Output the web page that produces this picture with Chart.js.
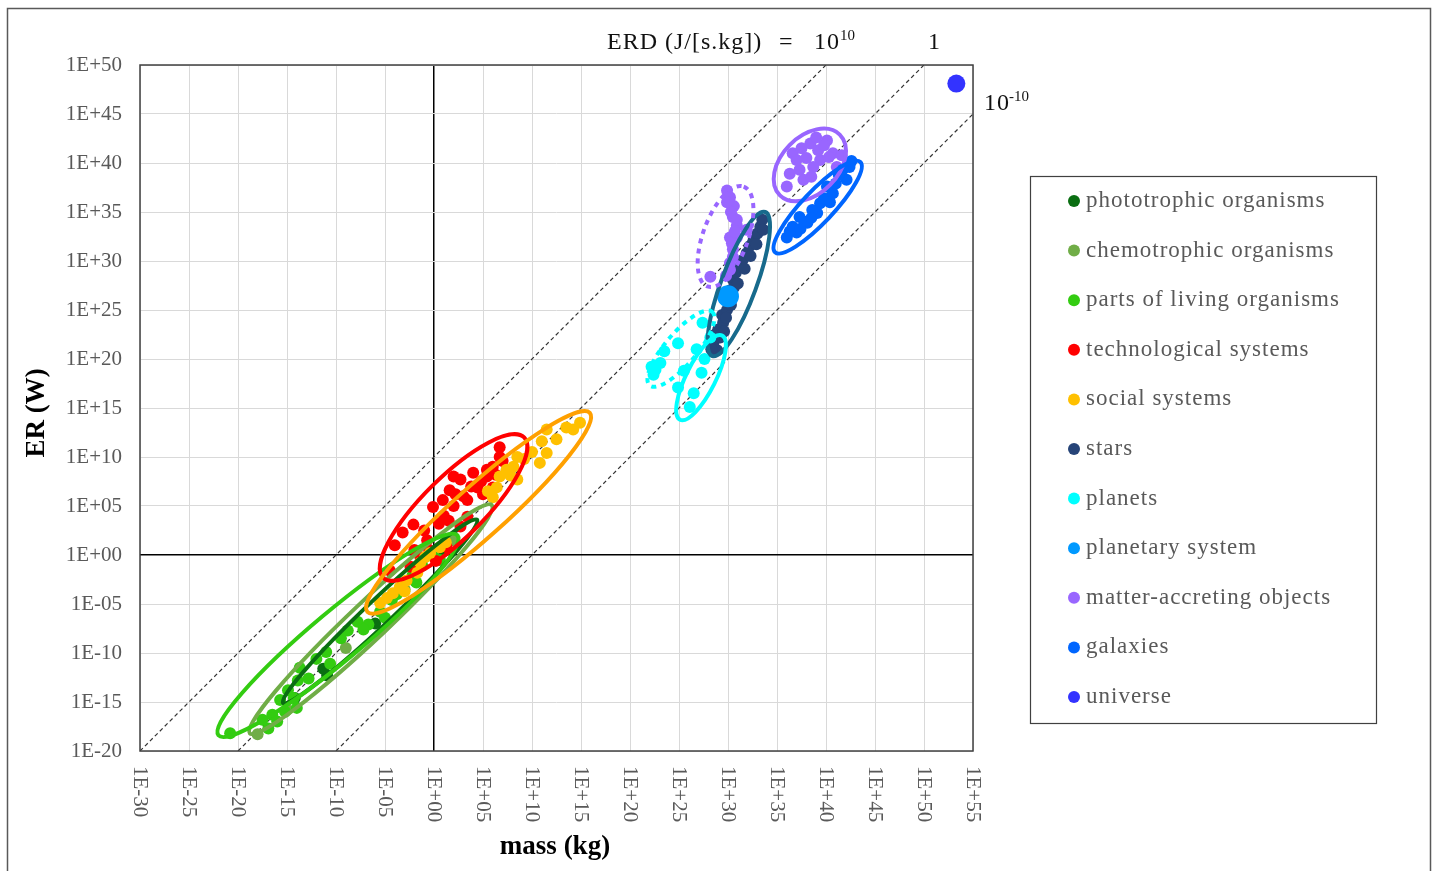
<!DOCTYPE html>
<html>
<head>
<meta charset="utf-8">
<script src="https://cdn.jsdelivr.net/npm/chart.js@4.4.0/dist/chart.umd.min.js"></script>
<style>
  html, body { margin: 0; padding: 0; background: #fff; }
  #wrap { position: absolute; left: 0; top: 0; width: 1435px; height: 871px; }
</style>
</head>
<body>
<div id="wrap"><canvas id="erdChart" width="1435" height="871"></canvas></div>
<script>
// values are log10 exponents: [log10 mass (kg), log10 ER (W)]
const phototrophic = [[-14.2, -14.6], [-10.9, -12.3], [-11.3, -11.6], [-6.0, -7.0], [-2.0, -2.6], [1.0, 0.4]];
const chemotrophic = [[-18.0, -18.3], [-15.0, -15.8], [-9.0, -9.5], [-3.0, -3.5], [2.0, 1.5]];
const livingParts = [[-20.8, -18.2], [-16.9, -17.7], [-16.5, -16.3], [-15.7, -14.8], [-14.9, -13.8],
  [-13.9, -12.8], [-13.7, -11.5], [-11.0, -9.9], [-10.6, -11.1], [-8.8, -7.7], [-7.8, -6.8],
  [-6.7, -7.1], [-5.5, -5.8], [-4.3, -4.6], [-3.3, -3.4], [-2.2, -2.1], [-1.2, -1.1], [0.6, -0.5],
  [-17.5, -16.8], [-15.2, -16.0], [-14.3, -14.6], [-12.8, -12.6], [-12.0, -10.6], [-9.5, -8.5],
  [-7.2, -7.6], [-5.0, -6.4], [-3.8, -4.0], [-1.8, -2.8], [0.0, -0.2], [-14.0, -15.6], [-16.0, -17.0]];
const technological = [[-3.2, 2.3], [-2.1, 3.1], [-0.1, 4.9], [1.6, 6.6], [2.7, 7.7], [3.4, 5.6],
  [4.0, 8.4], [5.4, 8.7], [6.0, 9.0], [6.7, 11.0], [6.0, 6.9], [4.4, 6.9], [0.9, 5.6], [-0.7, 1.5],
  [-1.4, -0.2], [-2.4, -1.2], [1.3, 0.8], [2.7, 2.9], [3.4, 3.9], [6.7, 10.0], [5.4, 8.0],
  [1.0, 4.0], [2.0, 5.0], [3.0, 6.0], [4.8, 7.5], [5.0, 6.2], [3.8, 7.0], [2.2, 6.2], [0.5, 3.2],
  [-1.0, 2.5], [1.5, 3.5], [6.3, 8.2], [7.0, 9.6], [-0.5, 0.5], [0.2, -0.6], [-2.0, 0.5],
  [2.0, 8.0], [-4.5, -1.6], [-4.0, 1.0]];
const social = [[14.2, 12.8], [14.9, 13.5], [11.5, 12.8], [11.5, 10.4], [10.8, 9.4], [8.5, 10.0],
  [8.1, 9.0], [7.4, 8.7], [6.7, 8.0], [6.4, 6.9], [6.0, 5.9], [8.5, 7.7], [0.6, 0.8], [-0.4, 0.2],
  [-1.4, -0.8], [-1.7, -1.8], [-4.2, -3.9], [-5.5, -4.9], [-3.5, -3.3], [13.5, 13.0], [12.5, 11.8],
  [10.0, 10.5], [9.2, 9.8], [7.8, 8.1], [11.0, 11.6], [5.5, 6.5], [-2.8, -2.6], [-0.9, -0.2],
  [-3.0, -3.7], [-4.8, -4.4], [1.2, 1.3]];
const stars = [[28.5, 21.6], [28.9, 20.9], [29.2, 22.2], [28.7, 22.5], [29.0, 23.0], [29.5, 23.7],
  [29.4, 24.5], [29.9, 25.0], [30.0, 26.0], [30.2, 27.0], [30.5, 28.1], [30.8, 28.8], [31.2, 29.4],
  [31.5, 30.1], [31.9, 30.8], [32.2, 31.5], [32.6, 32.1], [33.0, 32.8], [33.3, 33.5], [33.5, 34.2],
  [29.6, 22.8], [29.8, 24.2], [30.3, 25.5], [30.6, 27.3], [31.0, 27.7], [31.7, 29.2], [32.3, 30.5],
  [32.9, 31.7], [33.6, 33.2], [28.3, 21.0]];
const planets = [[22.2, 19.2], [22.6, 18.9], [23.1, 19.6], [22.4, 18.4], [24.9, 21.6], [27.4, 23.7],
  [27.3, 18.6], [24.9, 17.1], [26.1, 15.1], [28.2, 22.2], [26.8, 21.0], [23.5, 20.8], [26.5, 16.5],
  [27.6, 20.0], [25.5, 18.8]];
const planetarySystem = [[30.0, 26.4]];
const accreting = [[29.9, 37.2], [30.2, 36.5], [30.6, 35.6], [30.5, 34.5], [30.9, 33.6], [30.2, 32.4],
  [30.9, 32.4], [30.5, 31.2], [30.5, 30.4], [30.2, 29.1], [29.8, 28.5], [28.2, 28.4], [31.9, 33.2],
  [30.3, 35.0], [30.7, 33.0], [30.4, 31.8], [30.2, 29.8], [30.9, 34.2], [29.9, 36.0],
  [36.6, 41.0], [38.4, 42.0], [40.1, 42.3], [39.4, 40.3], [37.3, 39.3], [36.0, 37.6], [37.7, 38.3],
  [40.7, 41.0], [38.7, 39.6], [41.1, 39.6], [37.5, 41.5], [39.2, 41.3], [38.0, 40.5], [39.8, 41.8],
  [38.5, 38.6], [40.3, 40.6], [37.0, 40.3], [39.0, 42.6], [36.3, 38.9], [41.6, 40.8]];
const galaxies = [[42.4, 39.6], [42.1, 38.3], [40.7, 36.9], [39.4, 35.9], [39.1, 34.9], [37.3, 34.5],
  [36.6, 33.5], [36.0, 32.4], [38.1, 33.9], [40.1, 37.6], [41.7, 39.3], [37.0, 32.9],
  [38.6, 35.2], [39.8, 36.4], [41.0, 37.9], [41.3, 38.8], [37.8, 34.0], [36.3, 33.0], [38.5, 34.4],
  [42.6, 40.2], [40.4, 36.0], [37.4, 33.3]];
const universe = [[53.3, 48.1]];

const seriesNames = ['phototrophic organisms', 'chemotrophic organisms', 'parts of living organisms',
  'technological systems', 'social systems', 'stars', 'planets', 'planetary system',
  'matter-accreting objects', 'galaxies', 'universe'];
const seriesData = [phototrophic, chemotrophic, livingParts, technological, social, stars,
  planets, planetarySystem, accreting, galaxies, universe];
const seriesColors = ['#0a6e12', '#70ad47', '#33cc11', '#ff0000', '#ffc000', '#264478',
  '#00ffff', '#0099ff', '#9966ff', '#0066ff', '#3333ff'];

// ERD reference lines, log10(J/[s.kg])
const erdLevels = [10, 0, -10];

// group outlines: series index, major axis end points (log units), half width, dotted
const outlines = [
  [0, -15.4, -15.1, 4.4, 3.6, 1.3, false],
  [1, -18.8, -18.2, 5.9, 5.1, 1.9, false],
  [2, -22.0, -18.4, 2.4, 2.0, 2.5, false],
  [3, -5.2, -2.3, 9.2, 12.0, 3.1, false],
  [4, -6.8, -5.8, 15.9, 14.5, 2.6, false],
  [5, 28.4, 20.3, 33.8, 35.0, 1.8, false],
  [6, 25.1, 13.8, 29.4, 22.4, 1.5, false],
  [6, 22.0, 17.3, 28.4, 24.8, 1.6, true],
  [8, 27.9, 27.4, 31.6, 37.6, 2.3, true],
  [8, 35.3, 36.7, 41.4, 42.9, 2.9, false],
  [9, 34.8, 30.9, 43.5, 40.1, 1.6, false]
];
const outlineColors = { 4: '#ffa000', 5: '#176a8c' };

const xMin = -30, xMax = 55, yMin = -20, yMax = 50;
const serif = '"Liberation Serif", "Times New Roman", serif';

function expLabel(v) {
  return '1E' + (v < 0 ? '-' : '+') + String(Math.abs(v)).padStart(2, '0');
}

function erdLine(c) {
  const x0 = Math.max(xMin, yMin - c);
  const x1 = Math.min(xMax, yMax - c);
  return [{ x: x0, y: x0 + c }, { x: x1, y: x1 + c }];
}

const datasets = seriesNames.map((name, i) => ({
  type: 'scatter',
  label: name,
  data: seriesData[i].map(p => ({ x: p[0], y: p[1] })),
  backgroundColor: seriesColors[i],
  borderWidth: 0,
  pointRadius: name === 'universe' ? 9 : (name === 'planetary system' ? 11 : 6),
  pointHoverRadius: 0,
  order: 10 - i
}));

erdLevels.forEach(c => {
  datasets.push({
    type: 'line',
    label: 'ERD ' + c,
    data: erdLine(c),
    borderColor: '#333',
    borderWidth: 1.2,
    borderDash: [4, 3],
    pointRadius: 0,
    fill: false,
    order: 50
  });
});

const decor = {
  id: 'decor',
  afterDatasetsDraw(chart) {
    const ctx = chart.ctx;
    const xs = chart.scales.x, ys = chart.scales.y;
    ctx.save();
    ctx.beginPath();
    ctx.rect(chart.chartArea.left, chart.chartArea.top, chart.chartArea.width, chart.chartArea.height);
    ctx.clip();
    outlines.forEach(o => {
      const ax = xs.getPixelForValue(o[1]), ay = ys.getPixelForValue(o[2]);
      const bx = xs.getPixelForValue(o[3]), by = ys.getPixelForValue(o[4]);
      const half = Math.abs(xs.getPixelForValue(o[5]) - xs.getPixelForValue(0));
      ctx.beginPath();
      ctx.ellipse((ax + bx) / 2, (ay + by) / 2, Math.hypot(bx - ax, by - ay) / 2, half,
        Math.atan2(by - ay, bx - ax), 0, Math.PI * 2);
      ctx.strokeStyle = outlineColors[o[0]] || seriesColors[o[0]];
      ctx.lineWidth = 4;
      ctx.setLineDash(o[6] ? [5, 5] : []);
      ctx.stroke();
    });
    ctx.restore();
  },
  afterDraw(chart) {
    const ctx = chart.ctx;
    const xs = chart.scales.x, ys = chart.scales.y;
    const area = chart.chartArea;
    ctx.save();

    // plot box
    ctx.strokeStyle = '#404040';
    ctx.lineWidth = 1.5;
    ctx.strokeRect(area.left, area.top, area.width, area.height);

    // tick labels
    ctx.fillStyle = '#595959';
    ctx.font = '21px ' + serif;
    ctx.textAlign = 'right';
    ctx.textBaseline = 'middle';
    ys.ticks.forEach(t => ctx.fillText(expLabel(t.value), 122, ys.getPixelForValue(t.value)));
    ctx.textAlign = 'left';
    xs.ticks.forEach(t => {
      ctx.save();
      ctx.translate(xs.getPixelForValue(t.value), 766);
      ctx.rotate(Math.PI / 2);
      ctx.fillText(expLabel(t.value), 0, 0);
      ctx.restore();
    });

    // axis titles
    ctx.fillStyle = '#000';
    ctx.font = 'bold 27px ' + serif;
    ctx.textAlign = 'center';
    ctx.fillText('mass (kg)', 555, 847);
    ctx.save();
    ctx.translate(37, 413);
    ctx.rotate(-Math.PI / 2);
    ctx.fillText('ER (W)', 0, 0);
    ctx.restore();

    // ERD annotations
    ctx.textBaseline = 'alphabetic';
    ctx.textAlign = 'left';
    ctx.fillStyle = '#111';
    ctx.font = '24px ' + serif;
    ctx.letterSpacing = '1px';
    ctx.fillText('ERD (J/[s.kg])', 607, 49);
    ctx.fillText('=', 779, 49);
    ctx.fillText('10', 814, 49);
    ctx.fillText('1', 928, 49);
    ctx.fillText('10', 984, 110);
    ctx.letterSpacing = '0px';
    ctx.font = '15px ' + serif;
    ctx.fillText('10', 840, 40);
    ctx.fillText('-10', 1009, 101);

    // legend
    ctx.strokeStyle = '#404040';
    ctx.lineWidth = 1.2;
    ctx.strokeRect(1030.5, 176.5, 346, 547);
    ctx.font = '23px ' + serif;
    ctx.letterSpacing = '1px';
    ctx.textBaseline = 'middle';
    seriesNames.forEach((name, i) => {
      const y = 201 + i * 49.6;
      ctx.beginPath();
      ctx.arc(1074, y, 6, 0, Math.PI * 2);
      ctx.fillStyle = seriesColors[i];
      ctx.fill();
      ctx.fillStyle = '#595959';
      ctx.fillText(name, 1086, y);
    });
    ctx.letterSpacing = '0px';

    // outer frame
    ctx.strokeStyle = '#595959';
    ctx.lineWidth = 1.5;
    ctx.strokeRect(7.5, 8.5, 1423, 875);
    ctx.restore();
  }
};

function gridColor(c) { return c.tick && c.tick.value === 0 ? '#000' : '#d9d9d9'; }
function gridWidth(c) { return c.tick && c.tick.value === 0 ? 1.5 : 1; }

new Chart(document.getElementById('erdChart').getContext('2d'), {
  data: { datasets: datasets },
  options: {
    responsive: false,
    animation: false,
    events: [],
    layout: { padding: { left: 140, top: 65, right: 462, bottom: 120 } },
    plugins: { legend: { display: false }, tooltip: { enabled: false } },
    scales: {
      x: {
        type: 'linear', min: xMin, max: xMax,
        ticks: { stepSize: 5, display: false },
        grid: { color: gridColor, lineWidth: gridWidth, drawTicks: false },
        border: { display: false }
      },
      y: {
        type: 'linear', min: yMin, max: yMax,
        ticks: { stepSize: 5, display: false },
        grid: { color: gridColor, lineWidth: gridWidth, drawTicks: false },
        border: { display: false }
      }
    }
  },
  plugins: [decor]
});
</script>
</body>
</html>
